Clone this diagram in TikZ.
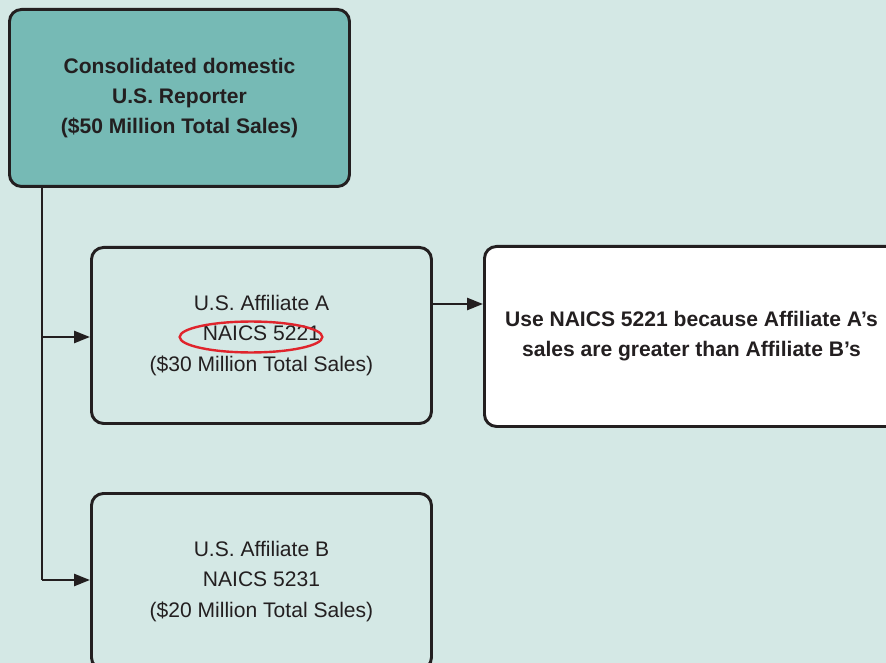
\documentclass[tikz,border=0pt]{standalone}
\usepackage{fontspec}
\setmainfont{Liberation Sans}
\usetikzlibrary{arrows.meta}
\definecolor{bgc}{HTML}{D4E8E5}
\definecolor{topc}{HTML}{76BAB5}
\definecolor{linec}{HTML}{231F20}
\definecolor{redc}{HTML}{E0242C}
\begin{document}
\begin{tikzpicture}[x=0.75pt,y=-0.75pt,
  box/.style={draw=linec, line width=2.2pt, rounded corners=9pt, anchor=north west,
    align=center, font=\fontsize{15.8pt}{23pt}\selectfont, text=linec, inner sep=0pt},
  boldtxt/.style={font=\fontsize{15.8pt}{22.5pt}\selectfont\bfseries},
  conn/.style={draw=linec, line width=1.9pt, -{Triangle[length=12pt,width=9pt]}}]
\useasboundingbox (0,0) rectangle (886,663);
\clip (0,0) rectangle (886,663);
\fill[bgc] (0,0) rectangle (886,663);
\node[box, boldtxt, fill=topc, minimum width=255pt, minimum height=132.75pt] (top) at (8,8)
  {\raisebox{-2pt}{Consolidated domestic}\\\raisebox{-2pt}{U.S. Reporter}\\\raisebox{-2pt}{(\$50 Million Total Sales)}};
\node[box, fill=bgc, minimum width=255pt, minimum height=132pt] (a) at (90,246)
  {U.S. Affiliate A\\NAICS 5221\\(\$30 Million Total Sales)};
\node[box, boldtxt, fill=white, minimum width=310.5pt, minimum height=135pt] (r) at (483,245)
  {Use NAICS 5221 because Affiliate A's\\sales are greater than Affiliate B's};
\node[box, fill=bgc, minimum width=255pt, minimum height=132pt] (b) at (90,492)
  {U.S. Affiliate B\\NAICS 5231\\(\$20 Million Total Sales)};
\coordinate (j1) at (42,337);
\coordinate (j2) at (42,580);
\coordinate (h) at (0,304);
\draw[linec, line width=1.9pt] (top.south -| j1) -- (j2);
\draw[conn] (j1) -- (a.west |- j1);
\draw[conn] (j2) -- (b.west |- j2);
\draw[conn] (a.east |- h) -- (r.west |- h);
\draw[redc, line width=1.8pt] (251,337) ellipse [x radius=53.5pt, y radius=11.6pt];
\end{tikzpicture}
\end{document}
